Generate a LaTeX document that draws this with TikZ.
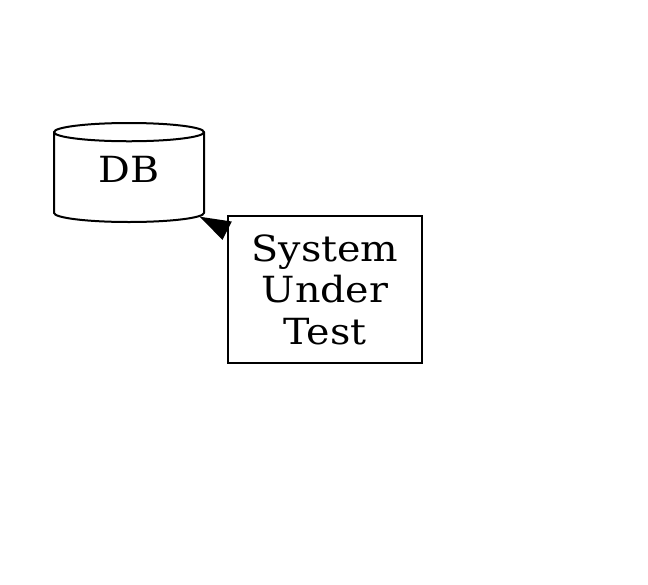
\documentclass[tikz,border=0pt]{standalone}
\usepackage{fontspec}
\setmainfont[FakeStretch=1.1]{DejaVu Serif}
\usepackage{tikz}
\usetikzlibrary{arrows.meta,shapes.geometric,positioning}
\tikzset{
  dbstore/.style={draw,line width=2pt,cylinder,shape border rotate=90,aspect=0.3,
    minimum width=150pt,minimum height=99pt,inner sep=0pt,text depth=16pt},
  sutbox/.style={draw,line width=2pt,rectangle,minimum width=194pt,minimum height=147pt,
    inner sep=0pt,align=center},
}
\begin{document}
\begin{tikzpicture}[x=1pt,y=-1pt,font=\fontsize{36}{41.5}\selectfont]
          \useasboundingbox (0,0) rectangle (648,584);
          \node[dbstore,anchor=shape center] (DB) at (129,172.5) {DB};
          \node[sutbox] (SUT) at (325,289.5) {System\\Under\\Test};
          \draw[line width=2pt,-{Triangle[length=31pt,width=20pt]}] (SUT.149) -- (DB.-29);
        \end{tikzpicture}
\end{document}
